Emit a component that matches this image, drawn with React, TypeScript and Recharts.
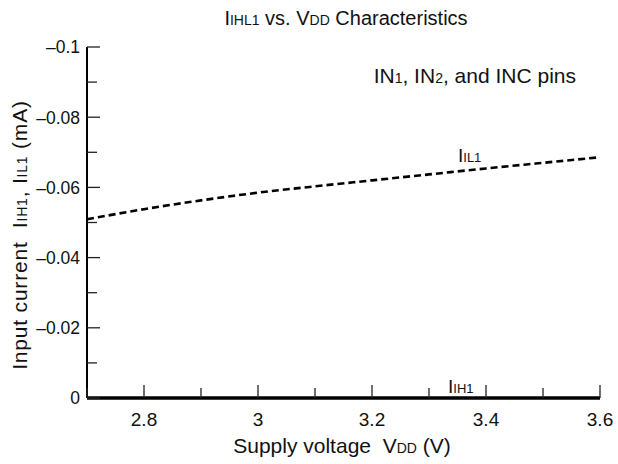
import React from 'react';
import { LineChart, Line, XAxis, YAxis } from 'recharts';

// supply voltage VDD (V)
const voltage = [2.7, 2.8, 2.9, 3.0, 3.1, 3.2, 3.3, 3.4, 3.5, 3.6];
// input current (mA)
const iil1 = [-0.0509, -0.0538, -0.0563, -0.0585, -0.0603, -0.062, -0.0637, -0.0654, -0.067, -0.0686];
const iih1 = [0, 0, 0, 0, 0, 0, 0, 0, 0, 0];

const xTicks = [2.7, 2.8, 2.9, 3.0, 3.1, 3.2, 3.3, 3.4, 3.5, 3.6];
const xTickLabels = ['', '2.8', '', '3', '', '3.2', '', '3.4', '', '3.6'];
const yTicks = [0, -0.01, -0.02, -0.03, -0.04, -0.05, -0.06, -0.07, -0.08, -0.09, -0.1];
const yTickLabels = ['0', '', '\u20130.02', '', '\u20130.04', '', '\u20130.06', '', '\u20130.08', '', '\u20130.1'];

const data = voltage.map((v, i) => ({ v, iil1: iil1[i], iih1: iih1[i] }));

const FONT = '"Liberation Sans", Arial, Helvetica, sans-serif';
const MAJOR = 13;
const MINOR = 10;
const TICK_COLOR = '#222';

const findIdx = (arr: number[], val: number) => arr.findIndex((t) => Math.abs(t - val) < 1e-9);

// inward tick marks + labels, one renderer per side
const BottomTick = (props: any) => {
  const { x, y, payload } = props;
  const i = findIdx(xTicks, payload.value);
  const label = xTickLabels[i] || '';
  const len = i % 2 === 1 ? MAJOR : MINOR;
  return (
    <g>
      <line x1={x} y1={y} x2={x} y2={y - len} stroke={TICK_COLOR} strokeWidth={1.3} />
      {label && (
        <text x={x} y={y + 28} textAnchor="middle" fontSize={19} fontFamily={FONT} fill="#111">
          {label}
        </text>
      )}
    </g>
  );
};

const TopTick = (props: any) => {
  const { x, y, payload } = props;
  const i = findIdx(xTicks, payload.value);
  const len = i % 2 === 1 ? MAJOR : MINOR;
  return <line x1={x} y1={y} x2={x} y2={y + len} stroke={TICK_COLOR} strokeWidth={1.3} />;
};

const LeftTick = (props: any) => {
  const { x, y, payload } = props;
  const i = findIdx(yTicks, payload.value);
  const label = yTickLabels[i] || '';
  const len = i % 2 === 0 ? MAJOR : MINOR;
  return (
    <g>
      <line x1={x} y1={y} x2={x + len} y2={y} stroke={TICK_COLOR} strokeWidth={1.3} />
      {label && (
        <text x={x - 7} y={y} dy="0.36em" textAnchor="end" fontSize={17.5} fontFamily={FONT} fill="#111">
          {label}
        </text>
      )}
    </g>
  );
};

const RightTick = (props: any) => {
  const { x, y, payload } = props;
  const i = findIdx(yTicks, payload.value);
  const len = i % 2 === 0 ? MAJOR : MINOR;
  return <line x1={x} y1={y} x2={x - len} y2={y} stroke={TICK_COLOR} strokeWidth={1.3} />;
};

const Sub = ({ children, size }: { children: React.ReactNode; size: number }) => (
  <tspan fontSize={size}>{children}</tspan>
);

const App = () => {
  return (
    <div style={{ position: 'absolute', left: 0, top: 0, width: 618, height: 464, background: '#fff' }}>
      <LineChart width={618} height={464} data={data} margin={{ top: 47, right: 18, bottom: 0, left: 0 }}>
        <XAxis
          xAxisId="b"
          dataKey="v"
          type="number"
          domain={[2.7, 3.6]}
          ticks={xTicks}
          interval={0}
          height={66}
          tickSize={0}
          tickMargin={0}
          tickLine={false}
          tick={<BottomTick />}
          axisLine={{ stroke: '#000', strokeWidth: 2 }}
        />
        <XAxis
          xAxisId="t"
          orientation="top"
          dataKey="v"
          type="number"
          domain={[2.7, 3.6]}
          ticks={xTicks}
          interval={0}
          height={0}
          tickSize={0}
          tickMargin={0}
          tickLine={false}
          tick={<TopTick />}
          axisLine={{ stroke: '#000', strokeWidth: 2 }}
        />
        <YAxis
          yAxisId="l"
          type="number"
          domain={[-0.1, 0]}
          reversed
          ticks={yTicks}
          interval={0}
          width={87}
          tickSize={0}
          tickMargin={0}
          tickLine={false}
          tick={<LeftTick />}
          axisLine={{ stroke: '#000', strokeWidth: 2 }}
        />
        <YAxis
          yAxisId="r"
          orientation="right"
          type="number"
          domain={[-0.1, 0]}
          reversed
          ticks={yTicks}
          interval={0}
          width={0}
          tickSize={0}
          tickMargin={0}
          tickLine={false}
          tick={<RightTick />}
          axisLine={{ stroke: '#000', strokeWidth: 2 }}
        />
        <Line
          xAxisId="b"
          yAxisId="l"
          dataKey="iil1"
          type="monotone"
          stroke="#000"
          strokeWidth={2.6}
          strokeDasharray="7 4"
          dot={false}
          isAnimationActive={false}
        />
        <Line
          xAxisId="b"
          yAxisId="l"
          dataKey="iih1"
          type="linear"
          stroke="#000"
          strokeWidth={3.5}
          dot={false}
          isAnimationActive={false}
        />
      </LineChart>
      <svg
        width={618}
        height={464}
        style={{ position: 'absolute', left: 0, top: 0, pointerEvents: 'none' }}
        fontFamily={FONT}
        fill="#111"
      >
        <text x={346} y={25} textAnchor="middle" fontSize={20}>
          I<Sub size={14}>IHL1</Sub> vs. V<Sub size={14}>DD</Sub> Characteristics
        </text>
        <text x={342} y={453} textAnchor="middle" fontSize={21}>
          Supply voltage{'\u00a0\u00a0'}V<Sub size={14}>DD</Sub> (V)
        </text>
        <text transform="translate(27 235) rotate(-90)" textAnchor="middle" fontSize={21} letterSpacing={0.8}>
          Input current{'\u00a0\u00a0'}I<Sub size={14}>IH1</Sub>, I<Sub size={14}>IL1</Sub> (mA)
        </text>
        <text x={576} y={83} textAnchor="end" fontSize={21}>
          IN<Sub size={14}>1</Sub>, IN<Sub size={14}>2</Sub>, and INC pins
        </text>
        <text x={458} y={162} fontSize={19}>
          I<Sub size={13}>IL1</Sub>
        </text>
        <text x={448} y={393} fontSize={19}>
          I<Sub size={13}>IH1</Sub>
        </text>
      </svg>
    </div>
  );
};

export default App;
